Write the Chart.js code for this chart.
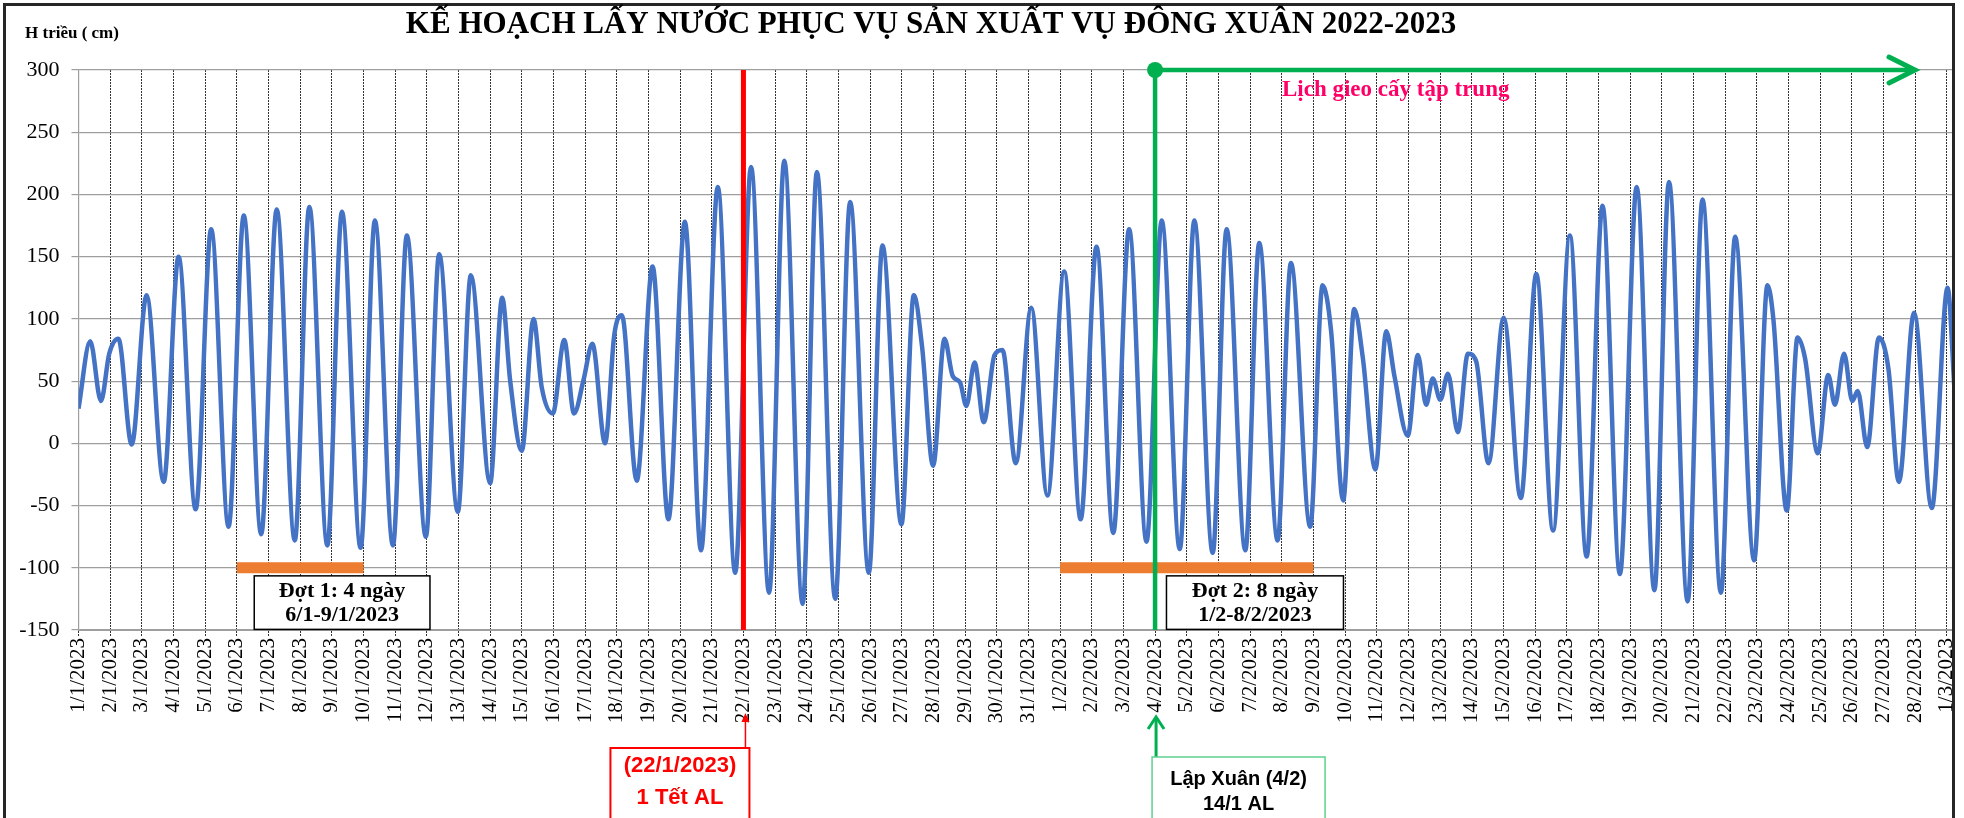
<!DOCTYPE html>
<html lang="vi">
<head>
<meta charset="UTF-8">
<title>Kế hoạch lấy nước phục vụ sản xuất vụ Đông Xuân 2022-2023</title>
<script src="https://cdn.jsdelivr.net/npm/chart.js"></script>
<style>
  body { margin: 0; background: #fff; }
  canvas { display: block; }
</style>
</head>
<body>
<canvas id="tideChart" width="1964" height="818"></canvas>
<script>
// ngày trên trục hoành (1 vạch / ngày)
const dateLabels = [
  '1/1/2023','2/1/2023','3/1/2023','4/1/2023','5/1/2023','6/1/2023','7/1/2023','8/1/2023','9/1/2023','10/1/2023',
  '11/1/2023','12/1/2023','13/1/2023','14/1/2023','15/1/2023','16/1/2023','17/1/2023','18/1/2023','19/1/2023','20/1/2023',
  '21/1/2023','22/1/2023','23/1/2023','24/1/2023','25/1/2023','26/1/2023','27/1/2023','28/1/2023','29/1/2023','30/1/2023',
  '31/1/2023','1/2/2023','2/2/2023','3/2/2023','4/2/2023','5/2/2023','6/2/2023','7/2/2023','8/2/2023','9/2/2023',
  '10/2/2023','11/2/2023','12/2/2023','13/2/2023','14/2/2023','15/2/2023','16/2/2023','17/2/2023','18/2/2023','19/2/2023',
  '20/2/2023','21/2/2023','22/2/2023','23/2/2023','24/2/2023','25/2/2023','26/2/2023','27/2/2023','28/2/2023','1/3/2023'
];

// mực nước triều: thời điểm (ngày kể từ 1/1) và cao độ (cm), đọc từ các đỉnh / chân triều
const tideDay = [
  0.00, 0.37, 0.71, 0.97, 1.26, 1.68, 2.15, 2.69, 3.16, 3.70,
  4.19, 4.74, 5.22, 5.77, 6.26, 6.83, 7.29, 7.86, 8.32, 8.91,
  9.36, 9.93, 10.37, 10.97, 11.39, 11.98, 12.39, 13.00, 13.38, 13.63,
  14.00, 14.37, 14.63, 14.98, 15.34, 15.65, 15.95, 16.23, 16.63, 16.92,
  17.16, 17.63, 18.13, 18.63, 19.15, 19.66, 20.19, 20.74, 21.24, 21.81,
  22.29, 22.87, 23.32, 23.90, 24.37, 24.96, 25.39, 25.99, 26.38, 26.64,
  26.99, 27.35, 27.61, 27.84, 28.04, 28.30, 28.59, 28.93, 29.18, 29.60,
  30.09, 30.60, 31.13, 31.65, 32.15, 32.68, 33.18, 33.73, 34.21, 34.78,
  35.24, 35.82, 36.26, 36.85, 37.29, 37.87, 38.29, 38.90, 39.29, 39.56,
  39.94, 40.29, 40.56, 40.96, 41.30, 41.56, 41.98, 42.30, 42.56, 42.77,
  43.01, 43.25, 43.56, 43.88, 44.14, 44.53, 45.01, 45.55, 46.04, 46.57,
  47.10, 47.63, 48.13, 48.68, 49.21, 49.77, 50.23, 50.82, 51.29, 51.87,
  52.32, 52.92, 53.34, 53.53, 53.95, 54.29, 54.53, 54.93, 55.26, 55.47,
  55.76, 56.02, 56.19, 56.49, 56.86, 57.16, 57.49, 57.97, 58.53, 59.03,
  59.25
];
const tideCm = [
  28, 82, 34, 72, 84, -1, 119, -31, 150, -53,
  172, -67, 183, -73, 188, -78, 190, -82, 186, -84,
  179, -82, 167, -75, 152, -55, 135, -32, 117, 51,
  -6, 100, 45, 24, 83, 24, 51, 80, 0, 87,
  103, -30, 142, -61, 178, -86, 206, -104, 222, -120,
  227, -129, 218, -125, 194, -104, 159, -65, 119, 78,
  -18, 84, 54, 49, 30, 65, 17, 71, 75, -16,
  109, -42, 138, -61, 158, -72, 172, -79, 179, -85,
  179, -88, 172, -86, 161, -78, 145, -67, 127, 90,
  -46, 108, 69, -21, 90, 54, 6, 71, 31, 52,
  35, 56, 9, 72, 66, -16, 101, -44, 136, -70,
  167, -91, 191, -105, 206, -118, 210, -127, 196, -120,
  166, -94, 127, 99, -54, 85, 68, -8, 55, 31,
  72, 34, 42, -3, 85, 60, -31, 105, -52, 125,
  42
];

const yMin = -150, yMax = 300, yStep = 50;
const xMax = 59.2;

// mốc sự kiện (chỉ số ngày trên trục hoành)
const tetDay = 21;            // 22/1/2023 - mùng 1 Tết
const lapXuanDay = 34;        // 4/2/2023 - Lập Xuân
const plantingEndDay = 58;    // mũi tên lịch gieo cấy
const dot1Days = [5, 9];      // Đợt 1
const dot2Days = [31, 39];    // Đợt 2
const dotLevel = -100;

const chartTitle = 'KẾ HOẠCH LẤY NƯỚC PHỤC VỤ SẢN XUẤT VỤ ĐÔNG XUÂN 2022-2023';
const yTitle = 'H triều ( cm)';
const plantingText = 'Lịch gieo cấy tập trung';
const dot1Text = ['Đợt 1: 4 ngày', '6/1-9/1/2023'];
const dot2Text = ['Đợt 2: 8 ngày', '1/2-8/2/2023'];
const tetText = ['(22/1/2023)', '1 Tết AL'];
const lapXuanText = ['Lập Xuân (4/2)', '14/1 AL'];

const SERIF = '"Liberation Serif", "Times New Roman", serif';
const SANS = '"Liberation Sans", Arial, sans-serif';

function chevron(ctx, x, y, dx, dy, horizontal) {
    ctx.beginPath();
    if (horizontal) {
        ctx.moveTo(x - dx, y - dy); ctx.lineTo(x, y); ctx.lineTo(x - dx, y + dy);
    } else {
        ctx.moveTo(x - dx, y + dy); ctx.lineTo(x, y); ctx.lineTo(x + dx, y + dy);
    }
    ctx.stroke();
}

function textBox(ctx, x1, y1, x2, y2, lines, opts) {
    ctx.fillStyle = '#fff';
    ctx.fillRect(x1, y1, x2 - x1, y2 - y1);
    ctx.lineWidth = opts.border;
    ctx.strokeStyle = opts.borderColor;
    ctx.strokeRect(x1, y1, x2 - x1, y2 - y1);
    ctx.fillStyle = opts.color;
    ctx.font = opts.font;
    ctx.textAlign = 'center';
    ctx.textBaseline = 'middle';
    lines.forEach((t, i) => ctx.fillText(t, (x1 + x2) / 2, y1 + opts.lineY[i]));
}

const overlay = {
    id: 'overlay',
    afterDraw(chart) {
        const {ctx, chartArea, scales} = chart;
        const x = scales.x, y = scales.y;
        ctx.save();

        // khung ngoài
        ctx.strokeStyle = '#262626';
        ctx.lineWidth = 3;
        ctx.strokeRect(4.5, 4.5, chartArea.right - 4, 840);

        // tiêu đề
        ctx.fillStyle = '#000';
        ctx.textAlign = 'center';
        ctx.textBaseline = 'middle';
        ctx.font = 'bold 31px ' + SERIF;
        ctx.fillText(chartTitle, 931, 25);

        ctx.textAlign = 'left';
        ctx.font = 'bold 17px ' + SERIF;
        ctx.fillText(yTitle, 25, 34);

        // mũi tên lịch gieo cấy
        ctx.strokeStyle = '#00b050';
        ctx.lineWidth = 5;
        ctx.lineCap = 'round';
        chevron(ctx, x.getPixelForValue(plantingEndDay), y.getPixelForValue(yMax), 26, 13, true);

        ctx.fillStyle = '#ff0066';
        ctx.textAlign = 'center';
        ctx.font = 'bold 23px ' + SERIF;
        ctx.fillText(plantingText, x.getPixelForValue(41.6), y.getPixelForValue(284));

        // hộp Đợt 1, Đợt 2
        const bTop = y.getPixelForValue(-106.5), bBot = y.getPixelForValue(-149.5);
        const boxOpts = {border: 1.5, borderColor: '#000', color: '#000', font: 'bold 22px ' + SERIF, lineY: [15, 39]};
        textBox(ctx, x.getPixelForValue(5.55), bTop, x.getPixelForValue(11.1), bBot, dot1Text, boxOpts);
        textBox(ctx, x.getPixelForValue(34.36), bTop, x.getPixelForValue(39.95), bBot, dot2Text, boxOpts);

        // Tết
        const xt = x.getPixelForValue(tetDay);
        const base = chartArea.bottom;
        ctx.strokeStyle = '#ff0000';
        ctx.fillStyle = '#ff0000';
        ctx.lineWidth = 1.5;
        ctx.lineCap = 'butt';
        ctx.beginPath(); ctx.moveTo(xt + 2, base + 90); ctx.lineTo(xt + 2, base + 118); ctx.stroke();
        ctx.beginPath(); ctx.moveTo(xt + 2, base + 83); ctx.lineTo(xt - 2, base + 92); ctx.lineTo(xt + 6, base + 92); ctx.closePath(); ctx.fill();
        textBox(ctx, xt - 133, base + 118, xt + 6, base + 200, tetText,
            {border: 2, borderColor: '#ff0000', color: '#ff0000', font: 'bold 22px ' + SANS, lineY: [18, 50]});

        // Lập Xuân
        const xl = x.getPixelForValue(lapXuanDay);
        ctx.strokeStyle = '#00b050';
        ctx.lineWidth = 3;
        ctx.beginPath(); ctx.moveTo(xl + 1, base + 87); ctx.lineTo(xl + 1, base + 127); ctx.stroke();
        chevron(ctx, xl + 1, base + 87, 8, 12, false);
        textBox(ctx, xl - 3, base + 127, xl + 170, base + 200, lapXuanText,
            {border: 1.5, borderColor: '#5fd08e', color: '#000', font: 'bold 20px ' + SANS, lineY: [22, 47]});

        ctx.restore();
    }
};

const pts = (xs, ys) => xs.map((d, i) => ({x: d, y: ys[i]}));

new Chart(document.getElementById('tideChart'), {
    type: 'line',
    data: {
        datasets: [
            {
                label: 'Mực nước triều',
                data: pts(tideDay, tideCm),
                borderColor: '#4472c4',
                borderWidth: 4.5,
                pointRadius: 0,
                cubicInterpolationMode: 'monotone',
                order: 2
            },
            {
                label: 'Đợt 1',
                data: pts(dot1Days, [dotLevel, dotLevel]),
                borderColor: '#ed7d31',
                borderWidth: 11,
                pointRadius: 0,
                clip: false,
                order: 3
            },
            {
                label: 'Đợt 2',
                data: pts(dot2Days, [dotLevel, dotLevel]),
                borderColor: '#ed7d31',
                borderWidth: 11,
                pointRadius: 0,
                clip: false,
                order: 3
            },
            {
                label: 'Tết',
                data: pts([tetDay, tetDay], [yMin, yMax]),
                borderColor: '#ff0000',
                borderWidth: 5,
                pointRadius: 0,
                clip: false,
                order: 0
            },
            {
                label: 'Lập Xuân',
                data: pts([lapXuanDay, lapXuanDay, plantingEndDay], [yMin, yMax, yMax]),
                borderColor: '#00b050',
                backgroundColor: '#00b050',
                borderWidth: 4.5,
                pointRadius: [0, 8, 0],
                pointBorderWidth: 0,
                clip: false,
                order: 0
            }
        ]
    },
    options: {
        responsive: false,
        animation: false,
        devicePixelRatio: 1,
        layout: { padding: { top: 70, right: 11, bottom: 0, left: 0 } },
        plugins: {
            legend: { display: false },
            tooltip: { enabled: false }
        },
        scales: {
            x: {
                type: 'linear',
                min: 0,
                max: xMax,
                afterFit: (s) => { s.height = 188; s.paddingLeft = 0; s.paddingRight = 0; },
                afterBuildTicks: (s) => { s.ticks = dateLabels.map((_, i) => ({value: i})); },
                grid: {
                    color: '#333',
                    lineWidth: 1,
                    tickLength: 6,
                    tickBorderDash: [2, 1]
                },
                border: { display: true, color: '#9e9e9e', width: 1, dash: [2, 1] },
                ticks: {
                    autoSkip: false,
                    minRotation: 90,
                    maxRotation: 90,
                    padding: 2,
                    color: '#000',
                    font: { family: SERIF, size: 21 },
                    callback: (v) => dateLabels[v] ?? ''
                }
            },
            y: {
                min: yMin,
                max: yMax,
                afterFit: (s) => { s.width = 78.5; },
                grid: {
                    color: '#9e9e9e',
                    lineWidth: 1.2,
                    tickLength: 7
                },
                border: { display: true, color: '#9e9e9e', width: 1.2 },
                ticks: {
                    stepSize: yStep,
                    padding: 12,
                    color: '#000',
                    font: { family: SERIF, size: 22 },
                    callback: (v) => String(v)
                }
            }
        }
    },
    plugins: [overlay]
});
</script>
</body>
</html>
